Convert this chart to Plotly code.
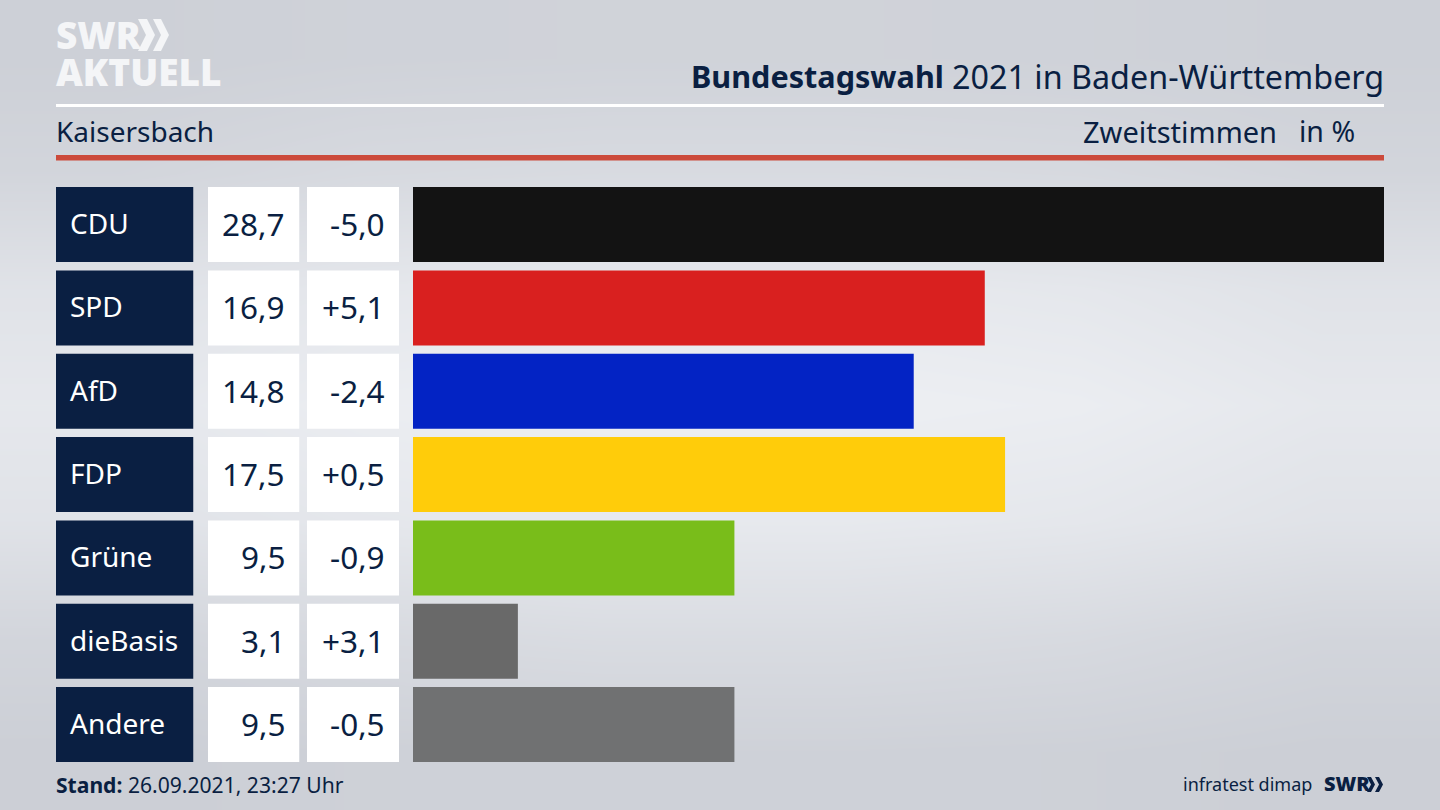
import plotly.graph_objects as go

W, H = 1440, 810
parties = ["CDU", "SPD", "AfD", "FDP", "Grüne", "dieBasis", "Andere"]
shares = [28.7, 16.9, 14.8, 17.5, 9.5, 3.1, 9.5]
changes = ["-5,0", "+5,1", "-2,4", "+0,5", "-0,9", "+3,1", "-0,5"]
bar_colors = ["#131313", "#d9201f", "#0323c4", "#ffcc0a", "#79bd1a", "#696969", "#707172"]
share_labels = [f"{v:.1f}".replace(".", ",") for v in shares]

NAVY = "#0a1f42"
FONT = "Noto Sans"
bg_z = [
    [0.06, 0.12, 0.14, 0.14, 0.12, 0.06],
    [0.22, 0.34, 0.38, 0.38, 0.34, 0.22],
    [0.62, 0.76, 0.82, 0.82, 0.76, 0.62],
    [0.78, 0.94, 1.00, 1.00, 0.94, 0.78],
    [0.62, 0.76, 0.82, 0.82, 0.76, 0.62],
    [0.22, 0.36, 0.42, 0.42, 0.36, 0.22],
    [0.02, 0.08, 0.10, 0.10, 0.08, 0.02],
]


def px(x):
    return x / W


def py(y):
    return 1 - y / H


fig = go.Figure()
fig.add_trace(go.Heatmap(
    z=bg_z, xaxis="x", yaxis="y", zsmooth="best", showscale=False, hoverinfo="skip",
    zmin=0, zmax=1, colorscale=[[0, "#cbced5"], [1, "#edeff3"]],
))

columns = [("x2", "xaxis2", 56, 193.5, NAVY), ("x3", "xaxis3", 208, 299.5, "#ffffff"), ("x4", "xaxis4", 307, 399, "#ffffff")]
for xa, _, _, _, col in columns:
    fig.add_trace(go.Bar(y=parties, x=[1] * len(parties), orientation="h", xaxis=xa, yaxis="y2",
                         marker=dict(color=col, line_width=0), showlegend=False, hoverinfo="skip"))
fig.add_trace(go.Bar(y=parties, x=shares, orientation="h", xaxis="x5", yaxis="y2",
                     marker=dict(color=bar_colors, line_width=0), showlegend=False))

hidden = dict(visible=False, fixedrange=True)
layout_axes = dict(
    xaxis=dict(domain=[0, 1], anchor="y", **hidden),
    yaxis=dict(domain=[0, 1], anchor="x", autorange="reversed", **hidden),
    yaxis2=dict(domain=[py(766.2), py(182.9)], anchor="x2", autorange=False,
                range=[len(parties) - 0.5, -0.5], type="category", categoryorder="array",
                categoryarray=parties, **hidden),
    xaxis5=dict(domain=[px(413), px(1384)], range=[0, max(shares)], anchor="y2", **hidden),
)
for _, name, x0, x1, _ in columns:
    layout_axes[name] = dict(domain=[px(x0), px(x1)], range=[0, 1], anchor="y2", **hidden)

ann = []


def text(x, y, s, size, color=NAVY, anchor="left", yref="paper", weight=None, yshift=0):
    f = dict(family=FONT, size=size, color=color)
    if weight:
        f["weight"] = weight
    ann.append(dict(x=px(x), y=py(y) if yref == "paper" else y, xref="paper", yref=yref, text=s,
                    showarrow=False, xanchor=anchor, yanchor="middle", align=anchor,
                    font=f, borderpad=0, borderwidth=0, yshift=yshift))


for p, s, c in zip(parties, share_labels, changes):
    text(70, p, p, 28, "#ffffff", yref="y2", yshift=1.5)
    text(285, p, s, 31.5, anchor="right", yref="y2", yshift=1)
    text(385, p, c, 31.5, anchor="right", yref="y2", yshift=1)

text(944, 76, "<b>Bundestagswahl</b>", 30.6, anchor="right")
text(1384, 76, "2021 in Baden-Württemberg", 32.3, anchor="right")
text(56, 131, "Kaisersbach", 28)
text(1277, 131, "Zweitstimmen", 29, anchor="right")
text(1355, 131, "in %", 28.5, anchor="right")
text(56, 784, "<b>Stand:</b> 26.09.2021, 23:27 Uhr", 21.1)
text(1312, 783.5, "infratest dimap", 18, anchor="right")
text(1324, 783.5, "SWR", 20, weight=900)
text(56, 35, "SWR", 37, "#f4f5f7", weight=900)
text(56, 71, "AKTUELL", 37, "#f4f5f7", weight=900)


def chevron(x, y, w, h, t, color):
    return dict(type="path", xref="paper", yref="paper", fillcolor=color, line_width=0,
                path=(f"M {px(x)} {py(y)} L {px(x + t)} {py(y)} L {px(x + t + w)} {py(y + h / 2)} "
                      f"L {px(x + t)} {py(y + h)} L {px(x)} {py(y + h)} L {px(x + w)} {py(y + h / 2)} Z"))


shapes = [
    dict(type="rect", xref="paper", yref="paper", x0=px(56), x1=px(1384), y0=py(107), y1=py(104),
         fillcolor="#ffffff", line_width=0),
    dict(type="rect", xref="paper", yref="paper", x0=px(56), x1=px(1384), y0=py(160.5), y1=py(155),
         fillcolor="#cc4a3b", line_width=0),
    chevron(138, 19, 8, 32, 9, "#f4f5f7"),
    chevron(153, 19, 8, 32, 8, "#f4f5f7"),
    chevron(1367, 777, 4, 15, 4, NAVY),
    chevron(1375, 777, 4, 15, 4, NAVY),
]

fig.update_layout(
    width=W, height=H, autosize=False, margin=dict(l=0, r=0, t=0, b=0, pad=0),
    barmode="overlay", bargap=0.1, showlegend=False,
    paper_bgcolor="#dfe1e6", plot_bgcolor="rgba(0,0,0,0)",
    annotations=ann, shapes=shapes, font=dict(family=FONT), **layout_axes,
)
fig.write_html("out.html", config={"displayModeBar": False},
               post_script="document.body.style.margin='0';document.documentElement.style.overflow='hidden';")
